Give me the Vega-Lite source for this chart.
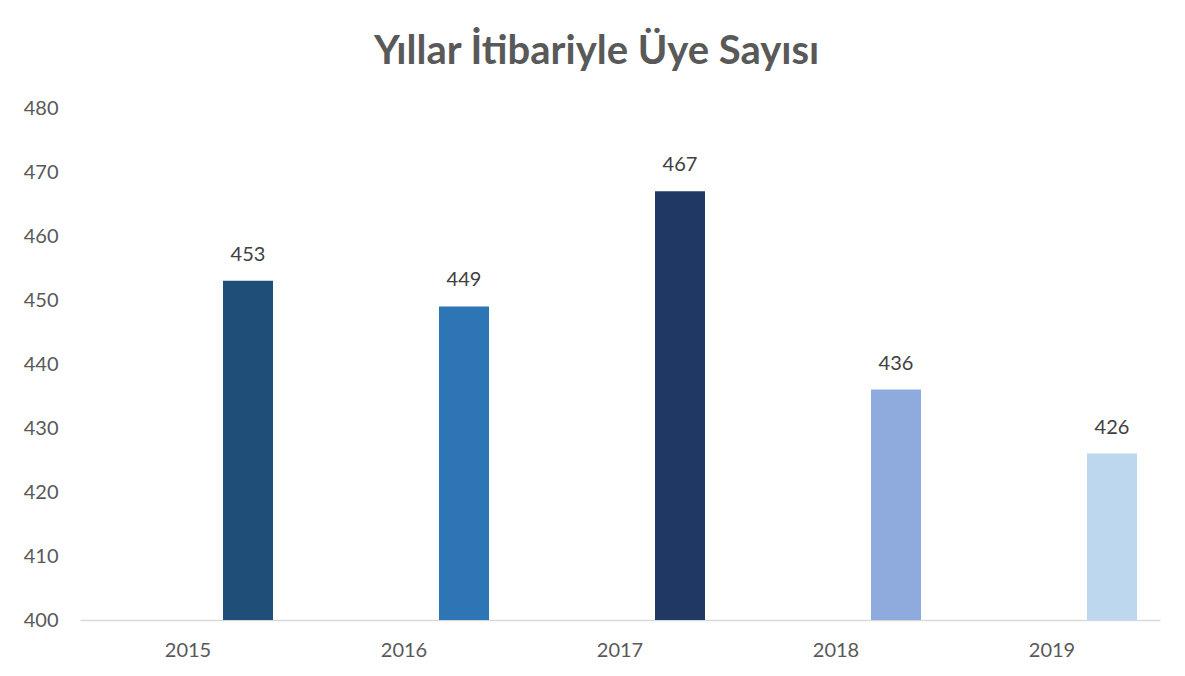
{
  "$schema": "https://vega.github.io/schema/vega-lite/v6.json",
  "width": 1080,
  "height": 512,
  "autosize": {"type": "none"},
  "padding": {"left": 80, "top": 108, "right": 25, "bottom": 56},
  "background": "white",
  "title": {
    "text": "Yıllar İtibariyle Üye Sayısı",
    "font": "Lato",
    "fontSize": 40,
    "fontWeight": "bold",
    "color": "#595959",
    "anchor": "middle",
    "frame": "bounds",
    "offset": 26,
    "dx": 5
  },
  "data": {
    "values": [
      {"year": "2015", "members": 453},
      {"year": "2016", "members": 449},
      {"year": "2017", "members": 467},
      {"year": "2018", "members": 436},
      {"year": "2019", "members": 426}
    ]
  },
  "config": {
    "view": {"stroke": null},
    "font": "Lato"
  },
  "encoding": {
    "x": {
      "field": "year",
      "type": "nominal",
      "sort": null,
      "scale": {"paddingInner": 0, "paddingOuter": 0},
      "axis": {
        "title": null,
        "labelAngle": 0,
        "labelFont": "Lato",
        "labelFontSize": 20,
        "labelColor": "#595959",
        "labelPadding": 20,
        "ticks": false,
        "domainColor": "#D9D9D9",
        "domainWidth": 1.5,
        "grid": false
      }
    },
    "y": {
      "field": "members",
      "type": "quantitative",
      "scale": {"domain": [400, 480], "zero": false},
      "axis": {
        "title": null,
        "values": [400, 410, 420, 430, 440, 450, 460, 470, 480],
        "labelFont": "Lato",
        "labelFontSize": 20,
        "labelColor": "#595959",
        "labelPadding": 22,
        "ticks": false,
        "domain": false,
        "grid": false
      }
    }
  },
  "layer": [
    {
      "mark": {"type": "bar", "width": 50, "xOffset": 60},
      "encoding": {
        "y2": {"datum": 400},
        "color": {
          "field": "year",
          "type": "nominal",
          "legend": null,
          "scale": {
            "domain": ["2015", "2016", "2017", "2018", "2019"],
            "range": ["#1F4E79", "#2E75B6", "#203864", "#8FAADC", "#BDD7EE"]
          }
        }
      }
    },
    {
      "mark": {"type": "text", "xOffset": 60, "dy": -16, "baseline": "bottom", "font": "Lato", "fontSize": 20, "color": "#404040"},
      "encoding": {
        "text": {"field": "members", "type": "quantitative"}
      }
    }
  ]
}
